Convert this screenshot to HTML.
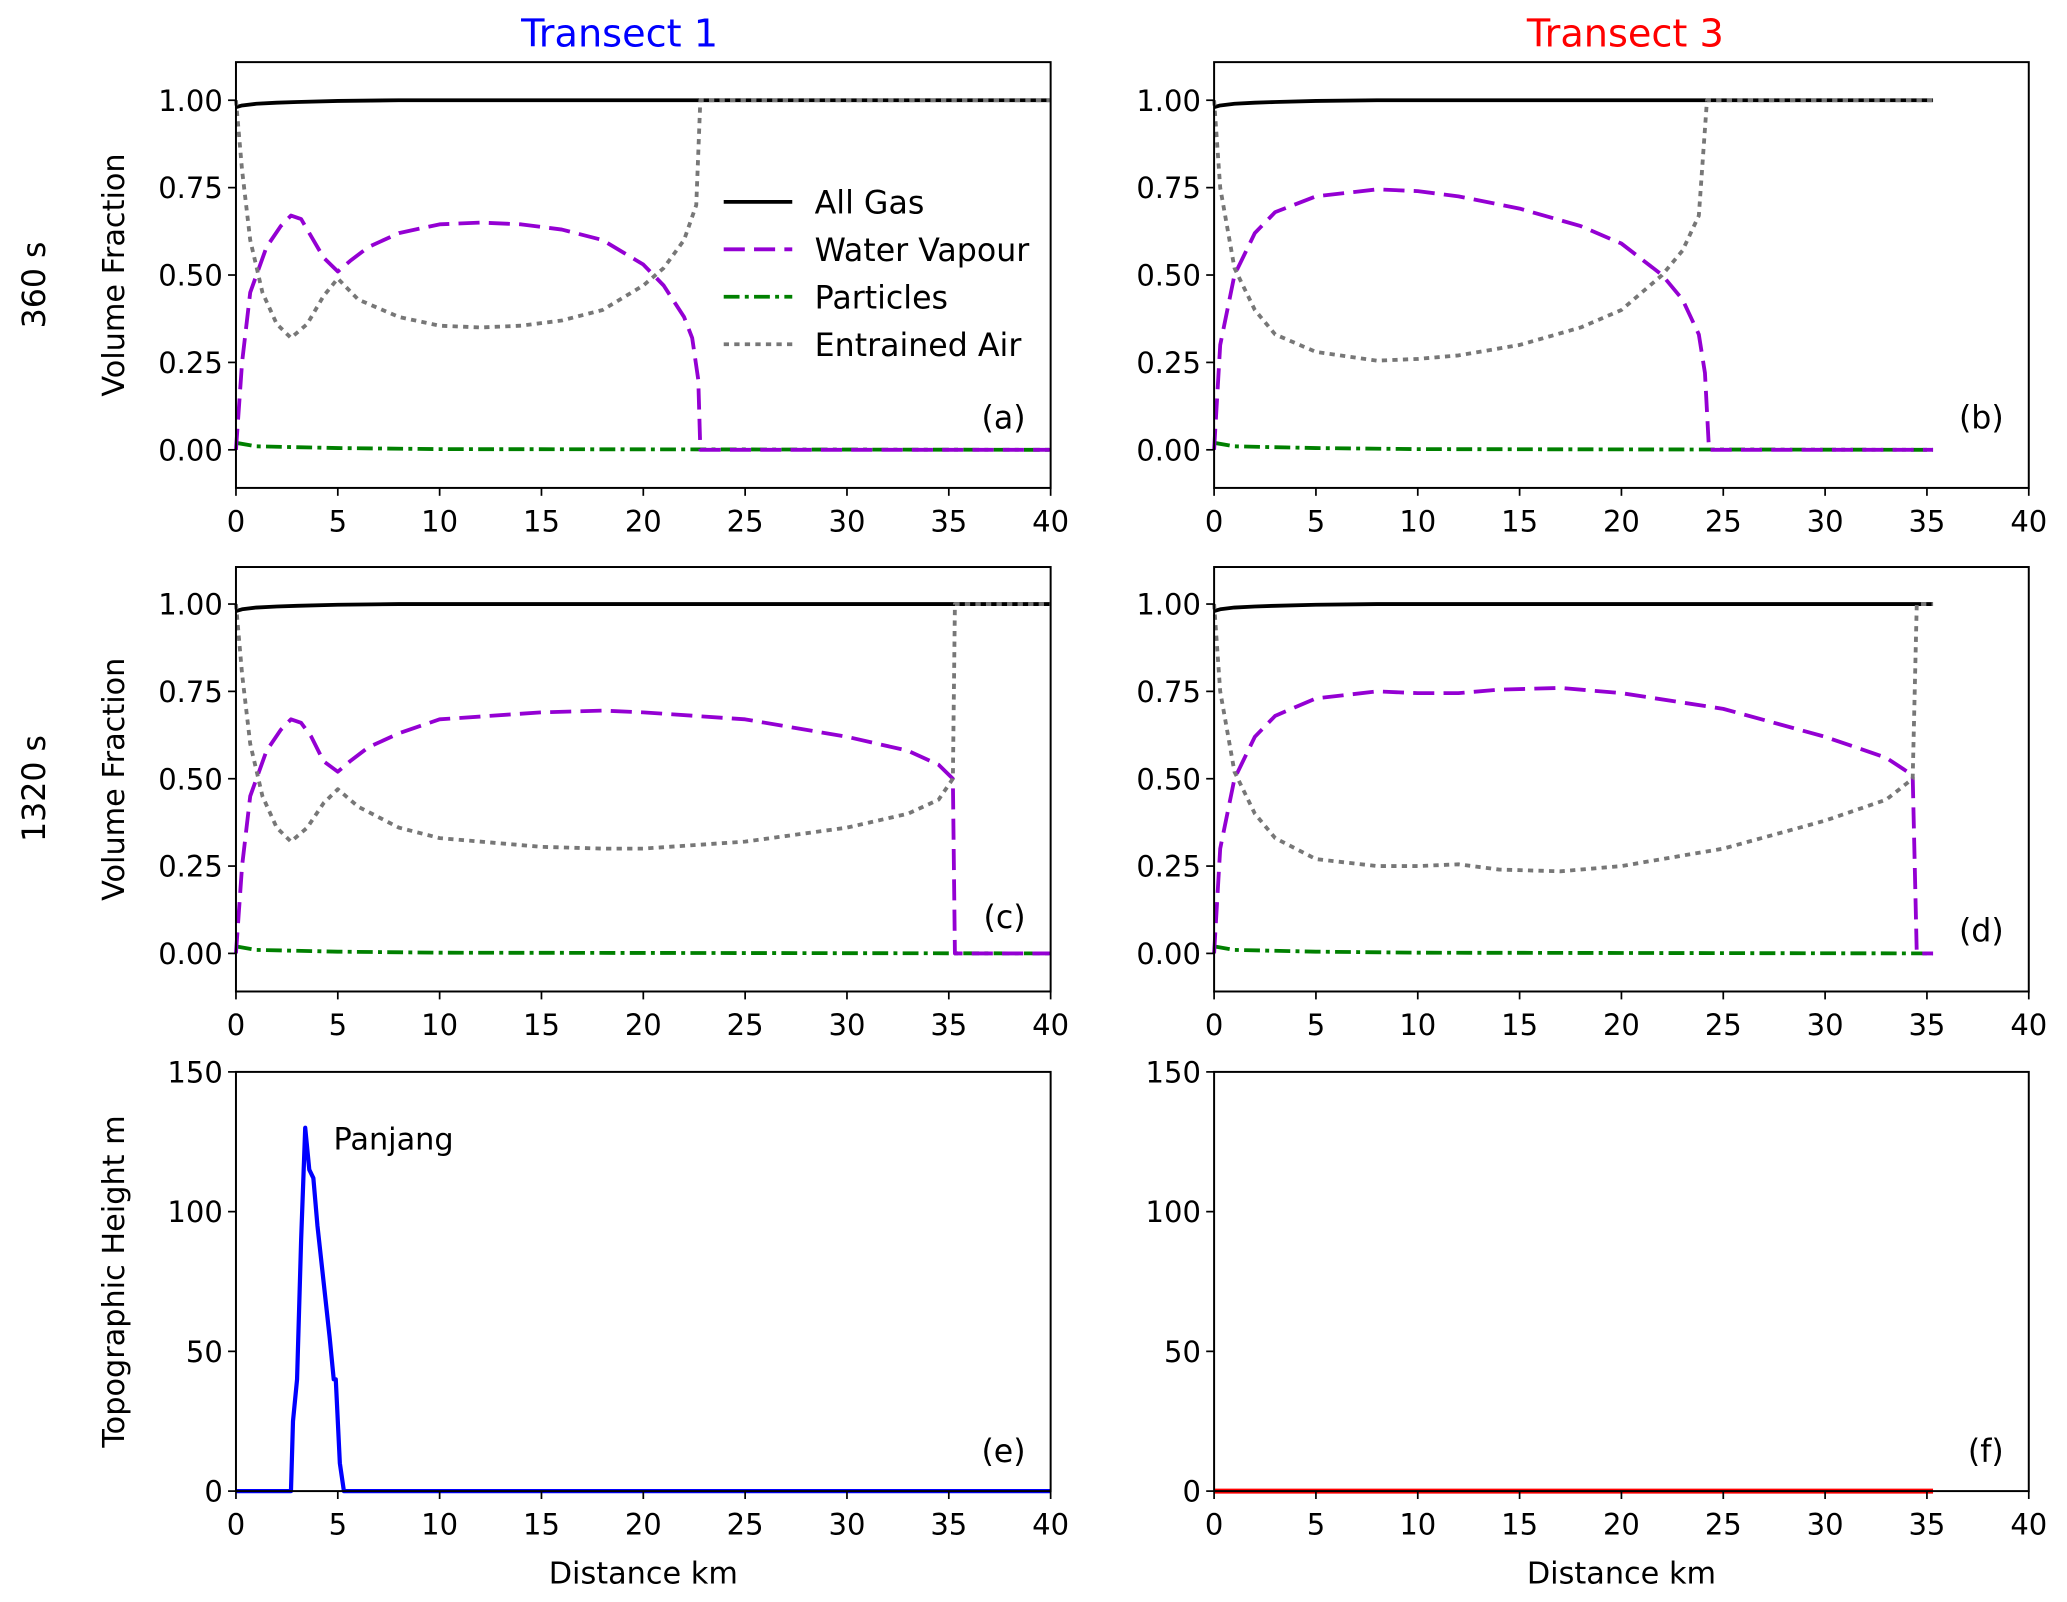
<!DOCTYPE html>
<html><head><meta charset="utf-8"><style>
html,body{margin:0;padding:0;background:#fff;}
svg{display:block;font-family:"DejaVu Sans","Liberation Sans",sans-serif;}
</style></head><body>
<svg id="fig" width="2067" height="1602" viewBox="0 0 1568 1215" xmlns="http://www.w3.org/2000/svg">
<text x="470" y="35" font-size="29" fill="#0000ff" text-anchor="middle">Transect 1</text>
<text x="1233" y="35" font-size="29" fill="#ff0000" text-anchor="middle">Transect 3</text>
<text transform="translate(34,216) rotate(-90)" font-size="24" text-anchor="middle">360 s</text>
<text transform="translate(34,598) rotate(-90)" font-size="24" text-anchor="middle">1320 s</text>
</svg>
<script>
const xTicks=[0,5,10,15,20,25,30,35,40];
const vfTicks=[0,0.25,0.5,0.75,1.0];
const vfTickLabels=["0.00","0.25","0.50","0.75","1.00"];
const topoTicks=[0,50,100,150];
// panel a
const aGasX=[0,0.3,1,2,3,5,8,22.8,40];
const aGasY=[0.98,0.985,0.99,0.993,0.995,0.998,1,1,1];
const aWatX=[0,0.3,0.7,1.5,2.2,2.7,3.2,3.7,4.3,5,5.6,6.5,8,10,12,14,16,18,20,21,22,22.4,22.7,22.8,40];
const aWatY=[0,0.25,0.45,0.58,0.64,0.67,0.66,0.61,0.55,0.51,0.54,0.58,0.62,0.645,0.65,0.645,0.63,0.6,0.53,0.47,0.38,0.32,0.2,0,0];
const aAirX=[0,0.3,0.7,1.3,2,2.7,3.5,4.3,5,6,8,10,12,14,16,18,20,21,22,22.6,22.8,40];
const aAirY=[1,0.8,0.6,0.45,0.36,0.32,0.36,0.44,0.49,0.43,0.38,0.355,0.35,0.355,0.37,0.4,0.47,0.52,0.6,0.7,1,1];
const aParX=[0,1,5,10,40];
const aParY=[0.02,0.01,0.005,0.002,0];
// panel b
const bGasX=[0,0.3,1,2,3,5,8,35.3];
const bGasY=[0.98,0.985,0.99,0.993,0.995,0.998,1,1];
const bWatX=[0,0.3,1,2,3,5,8,10,12,15,18,20,22,23,23.8,24.1,24.3,35.3];
const bWatY=[0,0.3,0.5,0.62,0.68,0.725,0.745,0.74,0.725,0.69,0.64,0.59,0.5,0.43,0.33,0.22,0,0];
const bAirX=[0,0.3,1,2,3,5,8,10,12,15,18,20,22,23,23.8,24.2,35.3];
const bAirY=[1,0.75,0.52,0.4,0.33,0.28,0.255,0.26,0.27,0.3,0.35,0.4,0.5,0.57,0.67,1,1];
const bParX=[0,1,5,10,35.3];
const bParY=[0.02,0.01,0.005,0.002,0];
// panel c
const cGasX=[0,0.3,1,2,3,5,8,40];
const cGasY=[0.98,0.985,0.99,0.993,0.995,0.998,1,1];
const cWatX=[0,0.3,0.7,1.5,2.2,2.7,3.2,3.7,4.3,5,5.6,6.5,8,10,15,18,20,25,30,33,34.5,35.2,35.3,40];
const cWatY=[0,0.25,0.45,0.58,0.64,0.67,0.66,0.62,0.55,0.52,0.55,0.59,0.63,0.67,0.69,0.695,0.69,0.67,0.62,0.58,0.54,0.5,0,0];
const cAirX=[0,0.3,0.7,1.3,2,2.7,3.5,4.3,5,6,8,10,15,18,20,25,30,33,34.5,35.2,35.3,40];
const cAirY=[1,0.8,0.6,0.45,0.36,0.32,0.36,0.43,0.47,0.42,0.36,0.33,0.305,0.3,0.3,0.32,0.36,0.4,0.44,0.5,1,1];
const cParX=[0,1,5,10,40];
const cParY=[0.02,0.01,0.005,0.002,0];
// panel d
const dGasX=[0,0.3,1,2,3,5,8,35.3];
const dGasY=[0.98,0.985,0.99,0.993,0.995,0.998,1,1];
const dWatX=[0,0.3,1,2,3,5,8,10,12,14,17,20,25,30,33,34.3,34.5,35.3];
const dWatY=[0,0.3,0.5,0.62,0.68,0.73,0.75,0.745,0.745,0.755,0.76,0.745,0.7,0.62,0.56,0.51,0,0];
const dAirX=[0,0.3,1,2,3,5,8,10,12,14,17,20,25,30,33,34.3,34.5,35.3];
const dAirY=[1,0.75,0.52,0.4,0.33,0.27,0.25,0.25,0.255,0.24,0.235,0.25,0.3,0.38,0.44,0.5,1,1];
const dParX=[0,1,5,10,35.3];
const dParY=[0.02,0.01,0.005,0.002,0];
// topography
const eTopoX=[0,2.7,2.8,3.0,3.2,3.4,3.6,3.8,4.0,4.3,4.6,4.8,4.9,5.1,5.3,40];
const eTopoY=[0,0,25,40,90,130,115,112,95,75,55,40,40,10,0,0];
const fTopoX=[0,35.3];
const fTopoY=[0,0];

const NS="http://www.w3.org/2000/svg";
const svg=document.getElementById('fig');
function mk(tag,attrs,parent){const e=document.createElementNS(NS,tag);for(const k in attrs)e.setAttribute(k,attrs[k]);(parent||svg).appendChild(e);return e;}
const cols=[179,921], W=618;
const rows=[{top:47,bot:370,y0:-0.109,y1:1.109},{top:430,bot:752,y0:-0.109,y1:1.106},{top:813,bot:1131,y0:0,y1:150}];
const labelY=[[316,316],[695,705],[1100,1100]];
function panel(ci,ri,name,label,series,ylab,xlab){
  const L=cols[ci],R=L+W,T=rows[ri].top,B=rows[ri].bot,y0=rows[ri].y0,y1=rows[ri].y1;
  const sx=v=>L+v/40*W, sy=v=>B-(v-y0)/(y1-y0)*(B-T);
  const g=mk('g',{});
  
  
  for(const s of series){
    const d=s.x.map((v,i)=>(i?'L':'M')+sx(v).toFixed(2)+','+sy(s.y[i]).toFixed(2)).join('');
    const p=mk('path',{d:d,fill:'none',stroke:s.c,'stroke-width':s.w||2.9,'stroke-dasharray':s.da||'none','stroke-linejoin':'round'},g);
    
    
  }
  const fr=mk('rect',{x:L,y:T,width:W,height:B-T,fill:'none',stroke:'#000','stroke-width':1.5},g);
  
  
  for(const t of xTicks){
    mk('line',{x1:sx(t),x2:sx(t),y1:B,y2:B+6,stroke:'#000','stroke-width':1.3},g);
    const tx=mk('text',{x:sx(t),y:B+33,'font-size':22,'text-anchor':'middle'},g);
    tx.textContent=t;
    
    
  }
  const yt= ri<2?vfTicks:topoTicks;
  yt.forEach((t,i)=>{
    mk('line',{x1:L-6,x2:L,y1:sy(t),y2:sy(t),stroke:'#000','stroke-width':1.3},g);
    const tx=mk('text',{x:L-10,y:sy(t)+8,'font-size':22,'text-anchor':'end'},g);
    tx.textContent= ri<2?vfTickLabels[i]:t;
    
    
  });
  const lb=mk('text',{x:R-19,y:labelY[ri][ci]+9,'font-size':24,'text-anchor':'end'},g);
  lb.textContent=label;
  
  
  if(ylab){
    const yl=mk('text',{transform:`translate(94,${(T+B)/2}) rotate(-90)`,'font-size':23,'text-anchor':'middle'},g);
    yl.textContent=ylab;
    
    
  }
  if(xlab){
    const xl=mk('text',{x:(L+R)/2,y:1201,'font-size':23,'text-anchor':'middle'},g);
    xl.textContent=xlab;
    
    
  }
  return {sx,sy};
}
const WD='16,7', AD='4,4', PD='12,4,3,4';
function vf(X){return [
 {x:X.par[0],y:X.par[1],c:'#008000',da:PD,n:'particles-line'},
 {x:X.wat[0],y:X.wat[1],c:'#9400d3',da:WD,n:'water-vapour-line'},
 {x:X.gas[0],y:X.gas[1],c:'#000',n:'all-gas-line'},
 {x:X.air[0],y:X.air[1],c:'#777',da:AD,n:'entrained-air-line'}];}
panel(0,0,'panel-a','(a)',vf({gas:[aGasX,aGasY],wat:[aWatX,aWatY],air:[aAirX,aAirY],par:[aParX,aParY]}),'Volume Fraction');
panel(1,0,'panel-b','(b)',vf({gas:[bGasX,bGasY],wat:[bWatX,bWatY],air:[bAirX,bAirY],par:[bParX,bParY]}));
panel(0,1,'panel-c','(c)',vf({gas:[cGasX,cGasY],wat:[cWatX,cWatY],air:[cAirX,cAirY],par:[cParX,cParY]}),'Volume Fraction');
panel(1,1,'panel-d','(d)',vf({gas:[dGasX,dGasY],wat:[dWatX,dWatY],air:[dAirX,dAirY],par:[dParX,dParY]}));
panel(0,2,'panel-e','(e)',[{x:eTopoX,y:eTopoY,c:'#0000ff',w:3.2,n:'topography-line'}],'Topographic Height m','Distance km');
panel(1,2,'panel-f','(f)',[{x:fTopoX,y:fTopoY,c:'#ff0000',w:3.8,n:'topography-line'}],null,'Distance km');
const pj=mk('text',{x:253,y:872,'font-size':23});
pj.textContent='Panjang';


// legend
const leg=mk('g',{});


const legItems=[['All Gas','#000','none'],['Water Vapour','#9400d3',WD],['Particles','#008000',PD],['Entrained Air','#777',AD]];
legItems.forEach((it,i)=>{
  const y=153+i*36;
  const ln=mk('line',{x1:549,x2:601,y1:y,y2:y,stroke:it[1],'stroke-width':2.9,'stroke-dasharray':it[2]},leg);
  
  
  const t=mk('text',{x:618,y:y+9,'font-size':24},leg);
  t.textContent=it[0];
  
  
});
</script>
</body></html>
